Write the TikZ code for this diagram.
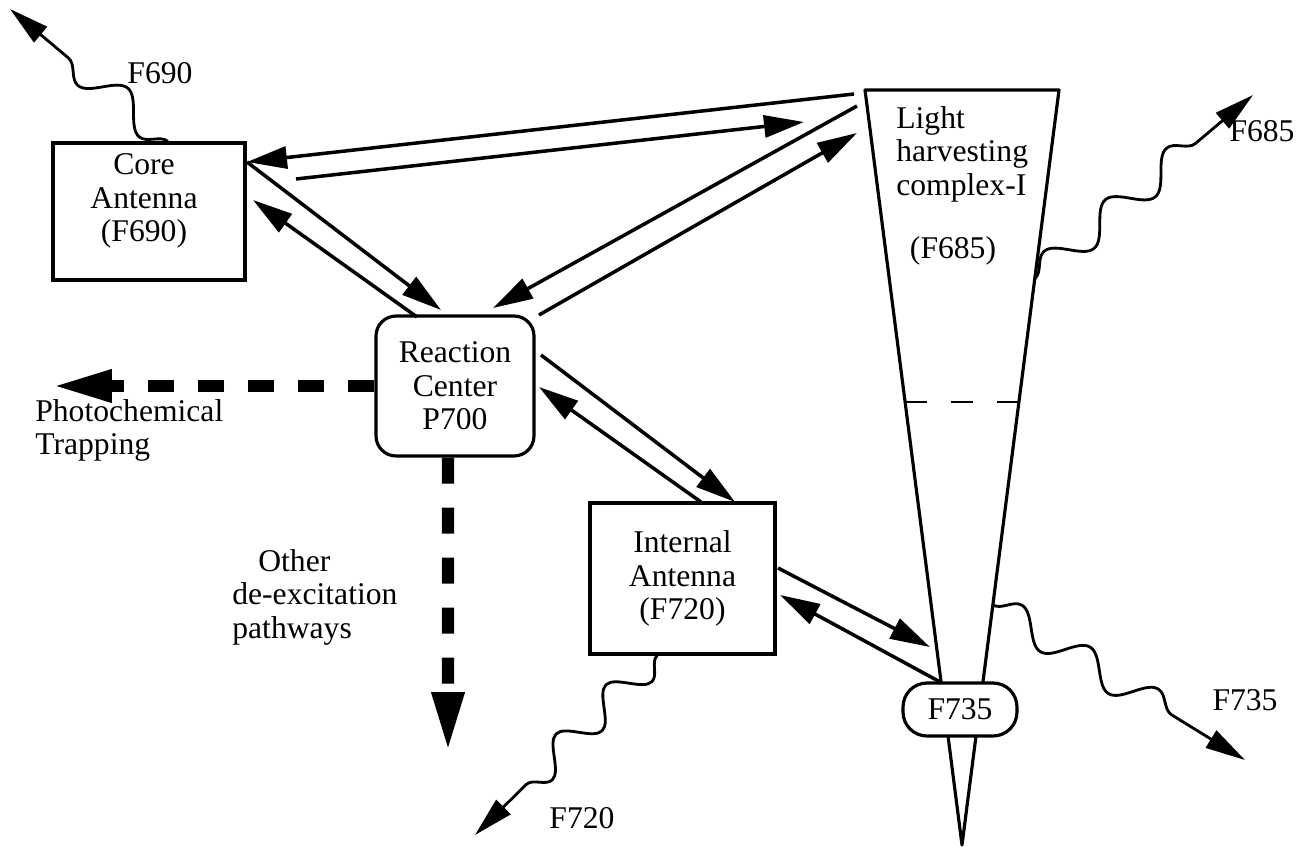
\documentclass[tikz,border=0pt]{standalone}
\usepackage{fontspec}
\setmainfont{Liberation Serif}
\usetikzlibrary{arrows.meta,decorations.pathmorphing,calc}

\tikzset{
  box/.style={draw,line width=1.8pt,fill=white,inner sep=0pt},
  arr/.style={line width=2pt,-{Triangle[length=0.8cm,width=0.44cm]}},
  trap/.style={line width=7pt,dash pattern=on 0.52cm off 0.48cm,-{Triangle[length=1.2cm,width=0.6cm]}},
  wave/.style={line width=1.6pt,decorate,
    decoration={snake,amplitude=0.3cm,segment length=1.6cm,post length=0.95cm},
    -{Triangle[length=0.8cm,width=0.4cm]}}
}

\begin{document}
\begin{tikzpicture}
[x=0.02cm,y=-0.02cm,every node/.style={font=\fontsize{18}{19}\selectfont}]
\fill[white] (0,0) rectangle (1300,847);
\useasboundingbox (0,0) rectangle (1300,847);

% light harvesting complex (the long wedge)
\coordinate (lhc-nw) at (865,90);
\coordinate (lhc-ne) at (1059,90);
\coordinate (lhc-tip) at (962,845);
\draw[line width=1.8pt,line join=round] (lhc-nw) -- (lhc-ne) -- (lhc-tip) -- cycle;
\coordinate (sep-l) at ($(lhc-nw)!0.413!(lhc-tip)$);
\coordinate (sep-r) at ($(lhc-ne)!0.413!(lhc-tip)$);
\draw[line width=1.2pt,dash pattern=on 0.44cm off 0.48cm] (sep-l) -- (sep-r);
\node[anchor=north west,align=left,inner sep=0pt] (lhc-txt) at (896,106) {Light\\harvesting\\complex-I};
\node (lhc-f) at (953,251) {(F685)};
\node[box,rounded corners=0.48cm,minimum width=2.28cm,minimum height=1.06cm] (f735) at (960,709.5) {F735};

% boxes
\node[box,minimum width=3.84cm,minimum height=2.74cm] (ca) at (149,211.5) {};
\node[align=center] (ca-txt) at (144,201) {Core\\Antenna\\(F690)};
\node[box,rounded corners=0.4cm,minimum width=3.16cm,minimum height=2.8cm,align=center] (rc) at (455,386) {Reaction\\Center\\P700};
\node[box,minimum width=3.7cm,minimum height=3.02cm,align=center] (ia) at (682.5,578.5) {Internal\\Antenna\\(F720)};

% ends of the transfer arrows
\coordinate (lhc-a) at (854,94);
\coordinate (lhc-b) at (804,122);
\coordinate (lhc-c) at (857,106);
\coordinate (lhc-d) at (857,133);
\coordinate (lhc-e) at (930,647);
\coordinate (ca-a) at (247,162);
\coordinate (ca-b) at (296,179);
\coordinate (ca-c) at (253,200);
\coordinate (rc-a) at (441,310);
\coordinate (rc-b) at (417,317);
\coordinate (rc-c) at (493,308);
\coordinate (rc-d) at (539,315);
\coordinate (rc-e) at (541,355);
\coordinate (rc-f) at (539,387);
\coordinate (ia-a) at (735,502);
\coordinate (ia-b) at (701,502);
\coordinate (ia-c) at (778,568);
\coordinate (ia-d) at (780,595);
\coordinate (f735-a) at (942,683);

\foreach \from/\to in {lhc-a/ca-a,ca-b/lhc-b,ca-a/rc-a,rc-b/ca-c,lhc-c/rc-c,rc-d/lhc-d,rc-e/ia-a,ia-b/rc-f,ia-c/lhc-e,f735-a/ia-d}
\draw[arr] (\from) -- (\to);

% trapping and other losses
\coordinate (pt-tip) at (52,386);
\coordinate (od-tip) at (448,752);
\draw[trap] (rc.west) -- (pt-tip);
\draw[trap] ([xshift=-0.14cm]rc.south) -- (od-tip);
\node[anchor=north west,align=left,inner sep=0pt] (pt) at (35,399) {Photochemical\\Trapping};
\node[anchor=north west,align=left,inner sep=0pt] (od) at (232,549) {\hspace{0.52cm}Other\\de-excitation\\pathways};

% fluorescence
\coordinate (f690-tip) at (10,9);
\coordinate (f685-tip) at (1253,95);
\coordinate (f735-tip) at (1245,760);
\coordinate (f720-tip) at (475,835);
\coordinate (lhc-e1) at ($(lhc-ne)!0.25!(lhc-tip)$);
\coordinate (lhc-e2) at ($(lhc-ne)!0.682!(lhc-tip)$);
\draw[wave] ([xshift=0.38cm]ca.north) -- (f690-tip);
\draw[wave] (lhc-e1) -- (f685-tip);
\draw[wave] (lhc-e2) -- (f735-tip);
\draw[wave,decoration={segment length=1.4cm}] ([xshift=-0.51cm]ia.south) -- (f720-tip);
\node (f690) at (160,73) {F690};
\node (f685) at (1262,131) {F685};
\node (f735-l) at (1245,700) {F735};
\node (f720) at (582,818) {F720};
\end{tikzpicture}
\end{document}
